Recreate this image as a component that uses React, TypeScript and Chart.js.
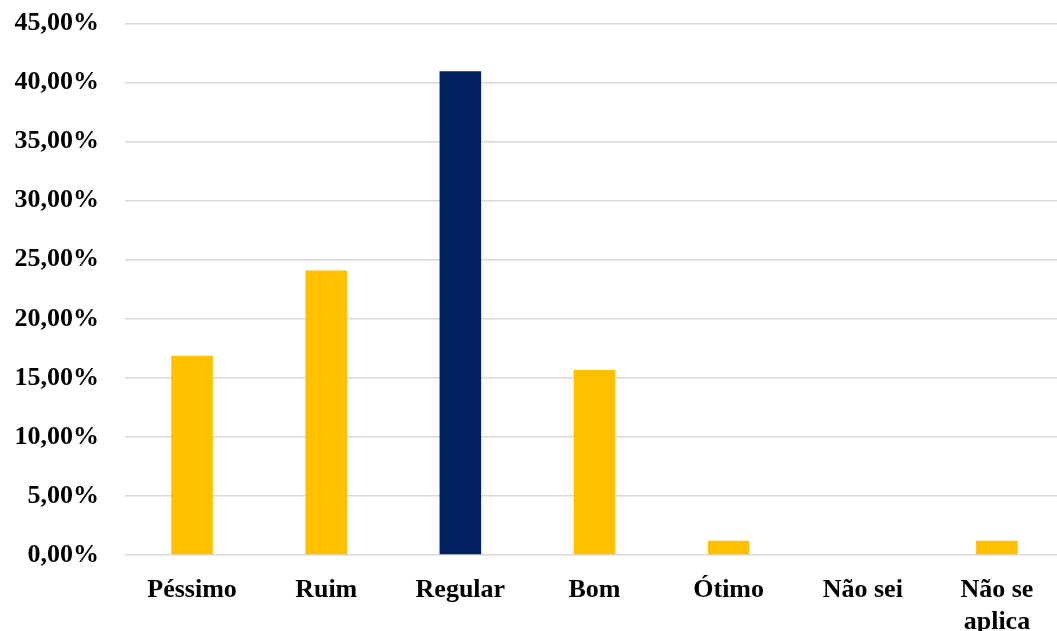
import React, { useEffect, useRef } from "react";
import { Chart, registerables } from "chart.js";

Chart.register(...registerables);

const categories: (string | string[])[] = ["Péssimo", "Ruim", "Regular", "Bom", "Ótimo", "Não sei", ["Não se", "aplica"]];
const values: number[] = [16.87, 24.1, 40.96, 15.66, 1.2, 0, 1.2];
const barColors: string[] = ["#FFC000", "#FFC000", "#002060", "#FFC000", "#FFC000", "#FFC000", "#FFC000"];
const yMin = 0;
const yMax = 45;
const yStep = 5;

export default function App() {
  const ref = useRef<HTMLCanvasElement | null>(null);

  useEffect(() => {
    document.body.style.margin = "0";
    document.body.style.overflow = "hidden";
    document.documentElement.style.overflow = "hidden";
    if (!ref.current) return;
    const font = { family: "'Liberation Serif', 'Times New Roman', serif", size: 26, weight: "bold" as const, lineHeight: 1.2 };
    const chart = new Chart(ref.current, {
      type: "bar",
      data: {
        labels: categories,
        datasets: [
          {
            data: values,
            backgroundColor: barColors,
            barPercentage: 0.31,
            categoryPercentage: 1,
          },
        ],
      },
      options: {
        animation: false,
        responsive: false,
        maintainAspectRatio: false,
        layout: { padding: 0 },
        plugins: { legend: { display: false }, tooltip: { enabled: false } },
        scales: {
          x: {
            grid: { display: false },
            border: { display: false },
            ticks: { color: "#000", font, maxRotation: 0, autoSkip: false, padding: 12 },
            afterFit: (s: any) => {
              s.height = 77;
            },
          },
          y: {
            min: yMin,
            max: yMax,
            grid: { color: "#d9d9d9", lineWidth: 1.5, drawTicks: false },
            border: { display: false },
            ticks: {
              stepSize: yStep,
              color: "#000",
              font,
              padding: 26,
              callback: (v: any) => Number(v).toFixed(2).replace(".", ",") + "%",
            },
            afterFit: (s: any) => {
              s.width = 125;
            },
          },
        },
      },
    });
    return () => chart.destroy();
  }, []);

  return (
    <div style={{ position: "fixed", left: 0, top: -18, width: 1064, height: 650 }}>
      <canvas ref={ref} width={1064} height={650} style={{ display: "block" }} />
    </div>
  );
}
